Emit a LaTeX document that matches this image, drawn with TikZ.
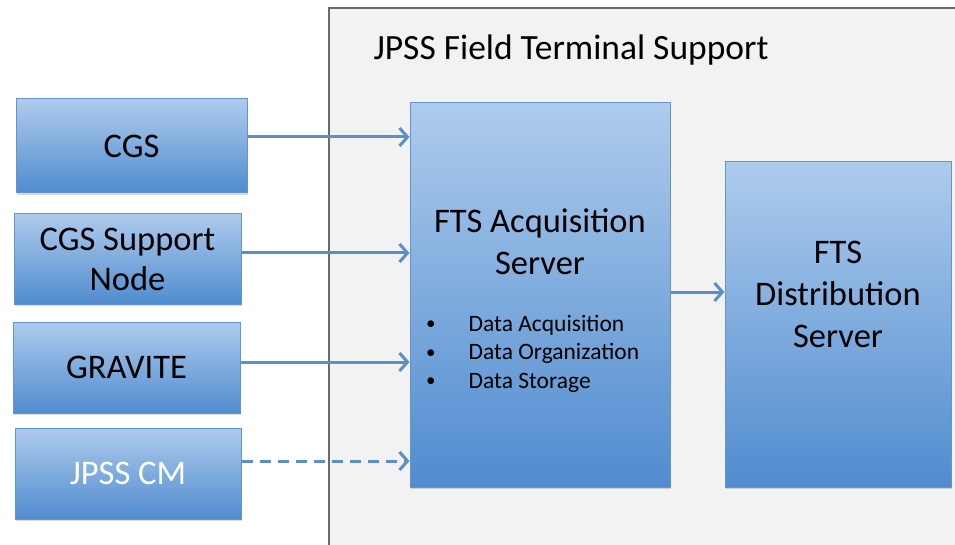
\documentclass[tikz,border=0pt]{standalone}
\usepackage{fontspec}
\setmainfont{Carlito}
\usetikzlibrary{arrows.meta,shadows}

\definecolor{boxtop}{RGB}{174,203,236}
\definecolor{boxbot}{RGB}{80,140,207}
\definecolor{boxline}{RGB}{98,148,206}
\definecolor{flowblue}{RGB}{91,143,201}
\definecolor{panel}{RGB}{242,242,242}
\definecolor{panelline}{RGB}{105,105,105}

\newcommand{\dotmark}{\raisebox{1.5pt}{\fontsize{19}{28}\selectfont\textbullet}}

\begin{document}
\begin{tikzpicture}[x=1pt, y=-1pt,
		box/.style={draw=boxline, line width=1pt, top color=boxtop, bottom color=boxbot, inner sep=0pt, align=center, font=\fontsize{34.5}{40}\selectfont, drop shadow={shadow xshift=1pt, shadow yshift=-2pt, opacity=0.3}},
		label/.style={align=center, font=\fontsize{34.5}{42}\selectfont},
		flow/.style={draw=flowblue, line width=3pt, -{Straight Barb[length=8pt, width=18pt, line width=3pt]}}]
			\useasboundingbox (0,0) rectangle (955,545);
			\clip (0,0) rectangle (955,545);

			% frame of the field terminal support
			\draw[draw=panelline, line width=1.4pt, fill=panel] (329,8) rectangle (980,570);
			\node[anchor=west, font=\fontsize{35.5}{40}\selectfont] (fts) at (370,50) {JPSS Field Terminal Support};

			\node[box, minimum width=231, minimum height=94, text depth=0pt] (cgs) at (131.5,146) {CGS};
			\node[box, minimum width=227, minimum height=90] (csn) at (127.5,259) {CGS Support\\Node};
			\node[box, minimum width=227, minimum height=91, text depth=0pt] (grav) at (126.5,367.5) {GRAVITE};
			\node[box, minimum width=226, minimum height=91, text=white] (jcm) at (128,473.5) {JPSS CM};

			\node[box, minimum width=260, minimum height=384] (acq) at (540,295) {};
			\node[label] (acqname) at (540,242) {FTS Acquisition\\Server};
			\node[anchor=north west, inner sep=0pt, font=\fontsize{23.5}{28.5}\selectfont] (acqtasks) at (426,311) {%
				\begin{tabular}{@{}l@{\hspace{33pt}}l@{}}
					\dotmark & Data Acquisition\\
					\dotmark & Data Organization\\
					\dotmark & Data Storage
				\end{tabular}};

			\node[box, minimum width=226, minimum height=325] (dist) at (838,324.5) {};
			\node[label] (distname) at (838,294) {FTS\\Distribution\\Server};

			\draw[flow] ([yshift=9pt]cgs.east) -- ([yshift=9pt]cgs.east -| acq.west);
			\draw[flow] ([yshift=6pt]csn.east) -- ([yshift=6pt]csn.east -| acq.west);
			\draw[flow] ([yshift=5.5pt]grav.east) -- ([yshift=5.5pt]grav.east -| acq.west);
			\draw[flow, dash pattern=on 11pt off 7pt] ([yshift=12.5pt]jcm.east) -- ([yshift=12.5pt]jcm.east -| acq.west);
			\draw[flow] ([yshift=3pt]acq.east) -- ([yshift=3pt]acq.east -| dist.west);
		\end{tikzpicture}
\end{document}
